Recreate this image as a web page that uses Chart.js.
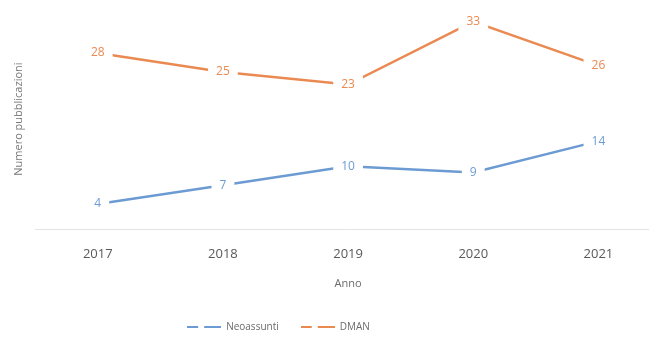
<!DOCTYPE html>
<html>
<head>
<meta charset="utf-8">
<script src="https://cdn.jsdelivr.net/npm/chart.js@4.4.0/dist/chart.umd.min.js"></script>
<style>
  html, body { margin: 0; padding: 0; background: #fff; overflow: hidden; }
  #wrap { width: 675px; height: 342px; }
</style>
</head>
<body>
<div id="wrap"><canvas id="pubChart"></canvas></div>
<script>
const anni = ['2017', '2018', '2019', '2020', '2021']
const neoassunti = [4, 7, 10, 9, 14]
const dman = [28, 25, 23, 33, 26]

const blu = '#6b9bd2'
const arancio = '#ea8a52'

// legend marker: two short dashes
function dashIcon(color){
    const c = document.createElement('canvas')
    c.width = 34
    c.height = 8
    const ctx = c.getContext('2d')
    ctx.strokeStyle = color
    ctx.lineWidth = 2
    ctx.beginPath()
    ctx.moveTo(0, 4); ctx.lineTo(11, 4)
    ctx.moveTo(17, 4); ctx.lineTo(34, 4)
    ctx.stroke()
    return c
}

// value labels on a white box over the line
const valueLabels = {
    id: 'valueLabels',
    afterDatasetsDraw(chart){
        const ctx = chart.ctx
        ctx.save()
        ctx.font = '12px "Open Sans", sans-serif'
        ctx.textAlign = 'center'
        ctx.textBaseline = 'middle'
        chart.data.datasets.forEach((ds, i) => {
            const meta = chart.getDatasetMeta(i)
            meta.data.forEach((pt, j) => {
                const txt = String(ds.data[j])
                const w = ctx.measureText(txt).width + 16
                ctx.fillStyle = '#fff'
                ctx.fillRect(pt.x - w / 2, pt.y - 9, w, 18)
                ctx.fillStyle = ds.borderColor
                ctx.fillText(txt, pt.x, pt.y)
            })
        })
        ctx.restore()
    }
}

// the legend sits a bit left of the canvas centre
const legendShift = {
    id: 'legendShift',
    afterLayout(chart){
        chart.legend.left -= 58
        chart.legend.right -= 58
    }
}

new Chart(document.getElementById('pubChart'), {
    type: 'line',
    data: {
        labels: anni,
        datasets: [{
            label: 'Neoassunti',
            data: neoassunti,
            borderColor: blu,
            backgroundColor: blu,
            borderWidth: 2.5,
            pointRadius: 0,
            tension: 0
        }, {
            label: 'DMAN',
            data: dman,
            borderColor: arancio,
            backgroundColor: arancio,
            borderWidth: 2.5,
            pointRadius: 0,
            tension: 0
        }]
    },
    options: {
        responsive: true,
        maintainAspectRatio: false,
        animation: false,
        layout: { padding: { top: 9, left: 12, right: 14, bottom: 0 } },
        scales: {
            x: {
                offset: true,
                grid: { display: false, drawTicks: false },
                border: { color: '#e3e3e3', width: 1 },
                ticks: { color: '#595959', font: { size: 13, family: '"Open Sans", sans-serif' }, padding: 17 },
                title: { display: true, text: 'Anno', color: '#6b6b6b', font: { size: 11, family: '"Open Sans", sans-serif' }, padding: { top: -2, bottom: 10 } }
            },
            y: {
                min: 0,
                max: 35,
                grid: { display: false, drawTicks: false },
                border: { display: false },
                ticks: { display: false },
                title: { display: true, text: 'Numero pubblicazioni', color: '#777', font: { size: 11, family: '"Open Sans", sans-serif' }, padding: { top: 0, bottom: 10 } }
            }
        },
        plugins: {
            tooltip: { enabled: false },
            legend: {
                position: 'bottom',
                labels: {
                    color: '#6b6b6b',
                    font: { size: 10, family: '"Open Sans", sans-serif' },
                    usePointStyle: true,
                    pointStyleWidth: 34,
                    padding: 22,
                    generateLabels(chart){
                        return chart.data.datasets.map((ds, i) => ({
                            text: ds.label,
                            fontColor: '#6b6b6b',
                            pointStyle: dashIcon(ds.borderColor),
                            strokeStyle: ds.borderColor,
                            fillStyle: ds.borderColor,
                            lineWidth: 0,
                            datasetIndex: i
                        }))
                    }
                }
            }
        }
    },
    plugins: [valueLabels, legendShift]
})
</script>
</body>
</html>
